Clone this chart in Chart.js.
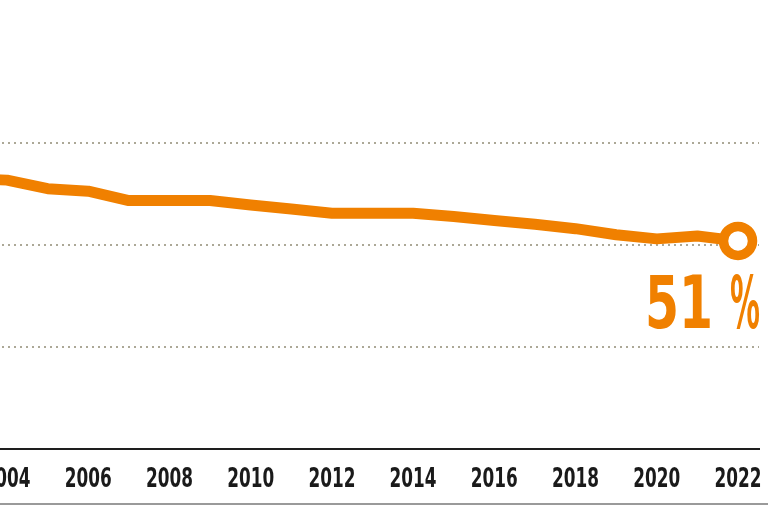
<!DOCTYPE html>
<html lang="de">
<head>
    <meta charset="UTF-8">
    <title>Anteil</title>
    <script src="https://cdn.jsdelivr.net/npm/chart.js@4.4.1/dist/chart.umd.min.js"></script>
    <style>
        html, body {
            margin: 0;
            padding: 0;
            background: #ffffff;
            overflow: hidden;
        }
        .frame {
            position: relative;
            width: 768px;
            height: 512px;
            overflow: hidden;
        }
        .chart-box {
            position: absolute;
            left: -100px;
            top: 0;
            width: 868px;
            height: 512px;
        }
    </style>
</head>
<body>
    <div class="frame">
        <div class="chart-box">
            <canvas id="shareChart"></canvas>
        </div>
    </div>

    <script>
        // data (percent)
        const years = [2003, 2004, 2005, 2006, 2007, 2008, 2009, 2010, 2011, 2012,
                       2013, 2014, 2015, 2016, 2017, 2018, 2019, 2020, 2021, 2022];
        const shares = [66.3, 65.9, 63.8, 63.2, 60.9, 60.9, 60.9, 59.8, 58.8, 57.8,
                        57.8, 57.8, 57.0, 56.0, 55.1, 54.0, 52.5, 51.5, 52.2, 51.0];
        const gridValues = [25, 50, 75];
        const lastLabel = '51';

        const orange = '#f08000';
        const condensed = "'DejaVu Sans Condensed', 'DejaVu Sans', sans-serif";

        // squeeze text horizontally so it fits a given width (no narrow font installed)
        function squeezedText(ctx, text, x, y, width, align) {
            const w = ctx.measureText(text).width;
            const k = width / w;
            ctx.save();
            ctx.translate(x, y);
            ctx.scale(k, 1);
            ctx.textAlign = align;
            ctx.fillText(text, 0, 0);
            ctx.restore();
        }

        const extrasPlugin = {
            id: 'extras',
            afterDraw(chart) {
                const ctx = chart.ctx;
                const xs = chart.scales.x;

                // year labels, placed by the x scale
                ctx.save();
                ctx.fillStyle = '#1a1a1a';
                ctx.font = 'bold 26px ' + condensed;
                ctx.textBaseline = 'alphabetic';
                xs.ticks.forEach(t => {
                    const px = xs.getPixelForValue(t.value);
                    squeezedText(ctx, String(t.value), px, 487, 47, 'center');
                });
                ctx.restore();

                // big value label under the last point
                const meta = chart.getDatasetMeta(0);
                const pt = meta.data[meta.data.length - 1];
                ctx.save();
                ctx.fillStyle = orange;
                ctx.font = 'bold 73px ' + condensed;
                ctx.textBaseline = 'alphabetic';
                squeezedText(ctx, lastLabel, pt.x - 25, pt.y + 87, 68, 'right');
                squeezedText(ctx, '%', pt.x - 8, pt.y + 87, 30, 'left');
                ctx.restore();

                // thin rule at the bottom
                ctx.save();
                ctx.strokeStyle = '#9a9a9a';
                ctx.lineWidth = 2;
                ctx.beginPath();
                ctx.moveTo(0, 504);
                ctx.lineTo(chart.width, 504);
                ctx.stroke();
                ctx.restore();
            }
        };

        const ctx = document.getElementById('shareChart').getContext('2d');
        new Chart(ctx, {
            type: 'line',
            data: {
                datasets: [{
                    data: years.map((y, i) => ({ x: y, y: shares[i] })),
                    borderColor: orange,
                    borderWidth: 11,
                    borderJoinStyle: 'round',
                    tension: 0,
                    pointRadius: years.map((y, i) => i === years.length - 1 ? 14.5 : 0),
                    pointBorderWidth: 9.5,
                    pointBackgroundColor: '#ffffff',
                    pointBorderColor: orange,
                    clip: { left: 0, top: false, right: false, bottom: false }
                }]
            },
            options: {
                responsive: true,
                maintainAspectRatio: false,
                animation: false,
                layout: {
                    autoPadding: false,
                    padding: { left: 0, right: 9, top: 41, bottom: 63 }
                },
                plugins: {
                    legend: { display: false },
                    tooltip: { enabled: false }
                },
                scales: {
                    x: {
                        type: 'linear',
                        min: 2001.365,
                        max: 2022.517,
                        grid: {
                            color: 'rgba(0,0,0,0)',
                            drawTicks: false
                        },
                        border: {
                            display: true,
                            color: '#1e1e1e',
                            width: 2
                        },
                        ticks: {
                            stepSize: 2,
                            includeBounds: false,
                            display: false
                        }
                    },
                    y: {
                        min: 0,
                        max: 100,
                        afterBuildTicks: axis => {
                            axis.ticks = gridValues.map(v => ({ value: v }));
                        },
                        grid: {
                            color: '#aca897',
                            lineWidth: 2,
                            drawTicks: false
                        },
                        border: {
                            display: false,
                            dash: [2, 4]
                        },
                        ticks: { display: false }
                    }
                }
            },
            plugins: [extrasPlugin]
        });
    </script>
</body>
</html>
